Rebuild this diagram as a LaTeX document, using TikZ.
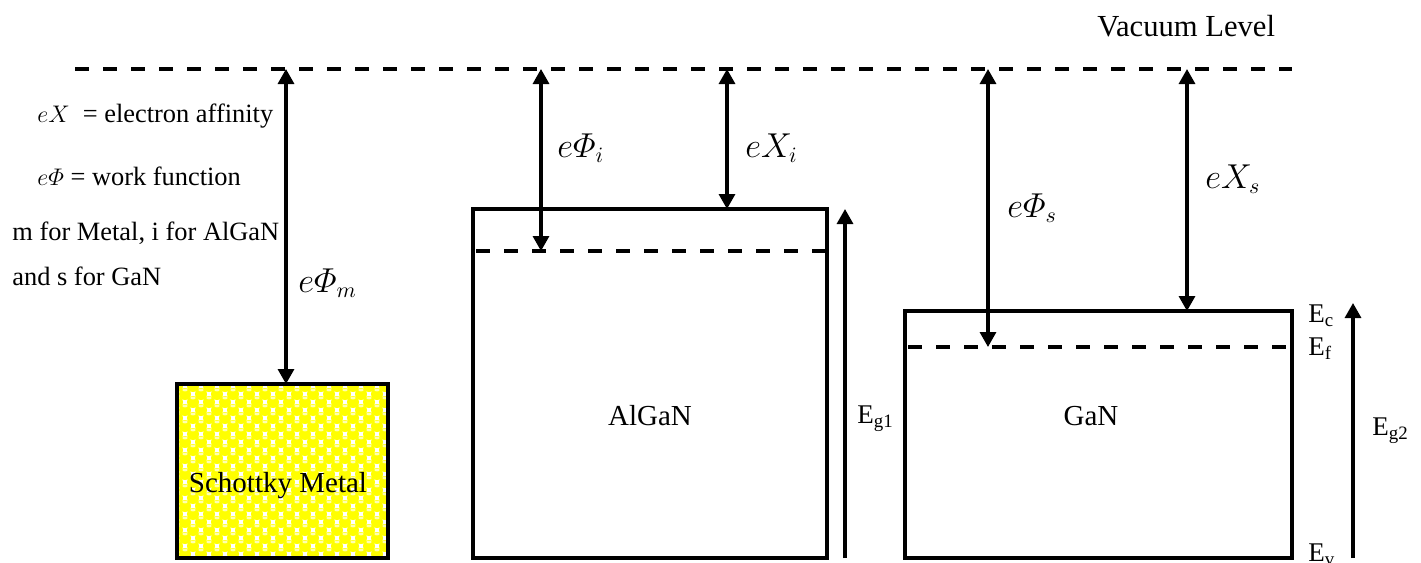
\documentclass[tikz,border=0pt]{standalone}
\usepackage{amsmath}
\usepackage{fontspec}
\setmainfont{Liberation Serif}
\usetikzlibrary{arrows.meta}
\definecolor{MetalYellow}{HTML}{FFFF00}
\definecolor{MetalShine}{HTML}{FFFFB0}

\begin{document}
\begin{tikzpicture}[x=0.5pt, y=-0.5pt, font=\fontsize{14.5}{17}\selectfont,
    band/.style={draw, line width=2pt},
    fermi/.style={line width=2pt, dash pattern=on 7pt off 7pt},
    gaparrow/.style={line width=1.6pt, -{Triangle[length=7.5pt, width=8pt]}},
    energy/.style={line width=1.6pt,
      {Triangle[length=7.5pt, width=8pt]}-{Triangle[length=7.5pt, width=8pt]}},
    mathlbl/.style={font=\fontsize{16}{19}\selectfont, anchor=base west, inner sep=0pt},
    legend/.style={font=\fontsize{13.2}{16}\selectfont, anchor=base west, inner sep=0pt},
    levellbl/.style={font=\fontsize{13.5}{16}\selectfont, anchor=base west, inner sep=0pt}]
  \useasboundingbox (0,0) rectangle (1421,563);

  % vacuum level
  \coordinate (vacL) at (75,69);
  \coordinate (vacR) at (1292,69);
  \draw[fermi] (vacL) -- (vacR);
  \node[anchor=base west, inner sep=0pt, font=\fontsize{15.3}{18}\selectfont]
    (vaclbl) at (1097,36) {Vacuum Level};

  % band boxes
  \coordinate (metalNW) at (177,384);
  \coordinate (metalSE) at (388,558);
  \coordinate (alganNW) at (473,209);
  \coordinate (alganSE) at (827,558);
  \coordinate (ganNW) at (905,311);
  \coordinate (ganSE) at (1292,558);

  % metal fill
  \begin{scope}
    \clip (metalNW) rectangle (metalSE);
    \foreach \j in {0,...,22} {
      \foreach \i in {0,...,14} {
        \fill[MetalYellow] ({177+16*\i+8*mod(\j,2)},{386+8*\j}) circle[radius=3pt];
        \fill[MetalShine] ({177+16*\i+8*mod(\j,2)},{382+8*\j}) ellipse[x radius=1.3pt, y radius=0.7pt];
      }
    }
  \end{scope}
  \draw[band] (metalNW) rectangle (metalSE);
  \draw[band] (alganNW) rectangle (alganSE);
  \draw[band] (ganNW) rectangle (ganSE);
  \node[anchor=base] (metallbl) at (278,492) {Schottky Metal};
  \node[anchor=base] (alganlbl) at (650,425) {AlGaN};
  \node[anchor=base] (ganlbl) at (1091,425) {GaN};

  % Fermi levels
  \coordinate (alganEfL) at (476,251);
  \coordinate (alganEfR) at (825,251);
  \coordinate (ganEfL) at (908,347);
  \coordinate (ganEfR) at (1288,347);
  \draw[fermi] (alganEfL) -- (alganEfR);
  \draw[fermi] (ganEfL) -- (ganEfR);

  % work functions and electron affinities
  \coordinate (phiM) at (286,69);
  \coordinate (phiI) at (541,69);
  \coordinate (chiI) at (727,69);
  \coordinate (phiS) at (988,69);
  \coordinate (chiS) at (1187,69);
  \draw[energy] (phiM) -- (phiM |- metalNW);
  \draw[energy] (phiI) -- (phiI |- alganEfL);
  \draw[energy] (chiI) -- (chiI |- alganNW);
  \draw[energy] (phiS) -- (phiS |- ganEfL);
  \draw[energy] (chiS) -- (chiS |- ganNW);
  \node[mathlbl] (phiMlbl) at (298,292) {$e\varPhi_m$};
  \node[mathlbl] (phiIlbl) at (557,157) {$e\varPhi_i$};
  \node[mathlbl] (chiIlbl) at (745,157) {$eX_i$};
  \node[mathlbl] (phiSlbl) at (1007,217) {$e\varPhi_s$};
  \node[mathlbl] (chiSlbl) at (1205,188) {$eX_s$};

  % band gaps
  \coordinate (eg1) at (845,558);
  \coordinate (eg1top) at (845,209);
  \coordinate (eg2) at (1353,558);
  \coordinate (eg2top) at (1353,303);
  \draw[gaparrow] (eg1) -- (eg1top);
  \draw[gaparrow] (eg2) -- (eg2top);
  \node[levellbl] (eg1lbl) at (857,423) {E\textsubscript{g1}};
  \node[levellbl] (eg2lbl) at (1372,435) {E\textsubscript{g2}};
  \node[levellbl] (eclbl) at (1308,322) {E\textsubscript{c}};
  \node[levellbl] (eflbl) at (1308,355) {E\textsubscript{f}};
  \node[levellbl] (evlbl) at (1308,561) {E\textsubscript{v}};

  % legend
  \node[legend] (chidef) at (37,122) {$eX$\enspace= electron affinity};
  \node[legend] (phidef) at (37,185) {$e\varPhi$ = work function};
  \node[legend] (subdef) at (12,240) {m for Metal, i for AlGaN};
  \node[legend] (subdef2) at (12,285) {and s for GaN};
\end{tikzpicture}
\end{document}
